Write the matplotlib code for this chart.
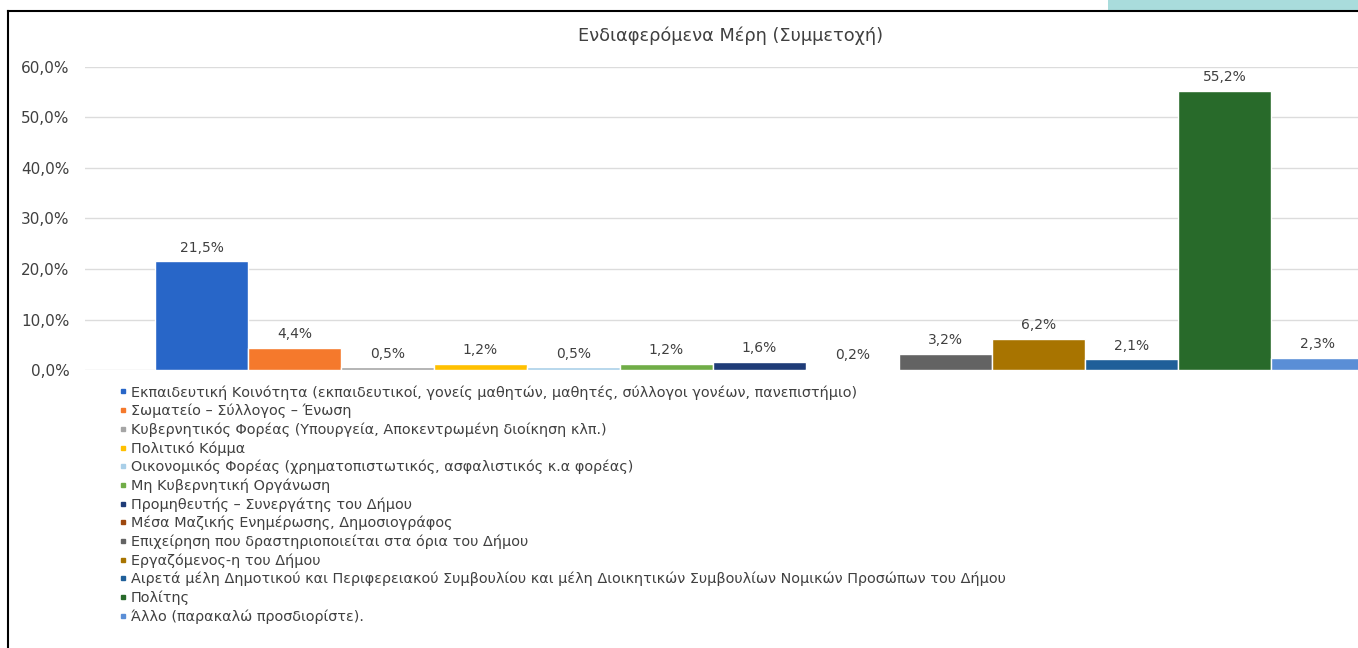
import matplotlib
matplotlib.use('Agg')
import matplotlib.pyplot as plt
from matplotlib.lines import Line2D
from matplotlib.patches import Rectangle

W, H = 1358, 648

TITLE = 'Ενδιαφερόμενα Μέρη (Συμμετοχή)'

CATEGORIES = [
    'Εκπαιδευτική Κοινότητα (εκπαιδευτικοί, γονείς μαθητών, μαθητές, σύλλογοι γονέων, πανεπιστήμιο)',
    'Σωματείο – Σύλλογος – Ένωση',
    'Κυβερνητικός Φορέας (Υπουργεία, Αποκεντρωμένη διοίκηση κλπ.)',
    'Πολιτικό Κόμμα',
    'Οικονομικός Φορέας (χρηματοπιστωτικός, ασφαλιστικός κ.α φορέας)',
    'Μη Κυβερνητική Οργάνωση',
    'Προμηθευτής – Συνεργάτης του Δήμου',
    'Μέσα Μαζικής Ενημέρωσης, Δημοσιογράφος',
    'Επιχείρηση που δραστηριοποιείται στα όρια του Δήμου',
    'Εργαζόμενος-η του Δήμου',
    'Αιρετά μέλη Δημοτικού και Περιφερειακού Συμβουλίου και μέλη Διοικητικών Συμβουλίων Νομικών Προσώπων του Δήμου',
    'Πολίτης',
    'Άλλο (παρακαλώ προσδιορίστε).',
]
VALUES = [21.5, 4.4, 0.5, 1.2, 0.5, 1.2, 1.6, 0.2, 3.2, 6.2, 2.1, 55.2, 2.3]
COLORS = ['#2866c8', '#f5792c', '#a5a5a5', '#ffc000', '#a9cfe8', '#70ad47',
          '#1f3c78', '#9e480e', '#636363', '#a87400', '#1f5f99', '#286a2a',
          '#5a8ed6']
YTICKS = [0, 10, 20, 30, 40, 50, 60]

TEXT = '#404040'
GRID = '#dcdcdc'


def fx(px):
    return px / W


def fy(py):
    return 1 - py / H


fig = plt.figure(figsize=(W / 100, H / 100), dpi=100)
fig.patch.set_facecolor('white')

# plot area: left edge at x=85, 0% at y=370, 60% at y=67; right side is cropped
ax = fig.add_axes([fx(85), fy(370), 1 - fx(85), (370 - 67) / H])
x = list(range(len(VALUES)))
bars = ax.bar(x, VALUES, width=1.0, color=COLORS, edgecolor='white',
              linewidth=1.0, zorder=3)
for xi, v in zip(x, VALUES):
    ax.annotate(f'{v:.1f}%'.replace('.', ','), (xi, v), xytext=(0, 10),
                textcoords='offset points', ha='center', va='center',
                fontsize=10, color=TEXT, zorder=4)

# bar 0 left edge at x=155, 93 px per bar
ppu = 93.0
ax.set_xlim(-0.5 - (155 - 85) / ppu, -0.5 + (W - 155) / ppu)
ax.set_ylim(0, 60)
ax.set_yticks(YTICKS)
ax.set_yticklabels([f'{t:.1f}%'.replace('.', ',') for t in YTICKS])
ax.set_xticks([])
ax.tick_params(axis='y', length=0, pad=11, labelsize=11, labelcolor=TEXT)
ax.grid(axis='y', color=GRID, linewidth=1.0, zorder=0)
for s in ax.spines.values():
    s.set_visible(False)

fig.text(fx(731), fy(36), TITLE, ha='center', va='center', fontsize=12.8,
         color=TEXT)

handles = [Line2D([], [], marker='s', linestyle='none', markersize=3.5,
                  markerfacecolor=c, markeredgecolor=c) for c in COLORS]
fig.legend(handles, CATEGORIES, loc='upper left',
           bbox_to_anchor=(fx(119), fy(385)), frameon=False, fontsize=10.4,
           handlelength=0.5, handletextpad=0.3, labelspacing=0.29,
           borderpad=0, borderaxespad=0, labelcolor=TEXT)

# outer frame of the chart object and the teal strip above it
fig.add_artist(Line2D([fx(8), fx(8)], [fy(11), 0], color='black', lw=1.5))
fig.add_artist(Line2D([fx(8), 1], [fy(11), fy(11)], color='black', lw=1.5))
fig.add_artist(Rectangle((fx(1108), fy(10)), 1 - fx(1108), 10 / H,
                         facecolor='#a9dcdc', edgecolor='none'))

fig.savefig('out.png', dpi=100, facecolor='white')
plt.close(fig)
